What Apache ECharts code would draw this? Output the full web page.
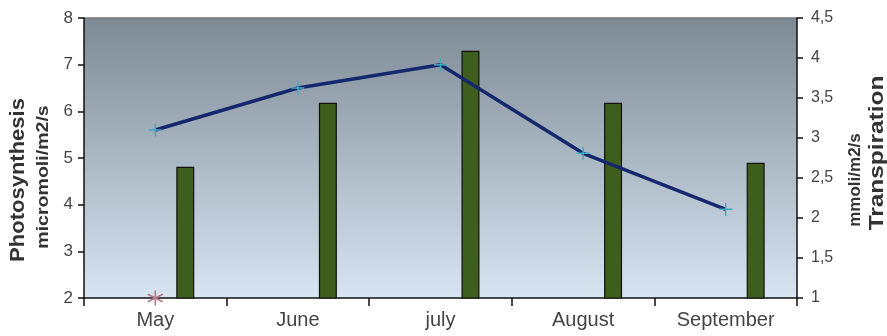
<!DOCTYPE html>
<html><head><meta charset="utf-8">
<script src="https://cdn.jsdelivr.net/npm/echarts@6/dist/echarts.min.js"></script>
<style>html,body{margin:0;padding:0;background:#fff}#c{width:887px;height:336px}</style>
</head><body><div id="c"></div>
<script>
const months = ['May', 'June', 'july', 'August', 'September'];
const photosynthesis = [5.6, 6.5, 7.0, 5.1, 3.9];
const transpiration = [2.64, 3.44, 4.09, 3.44, 2.69];
const marker = [2, null, null, null, null];
const leftTicks = [2, 3, 4, 5, 6, 7, 8];
const rightTicks = [1, 1.5, 2, 2.5, 3, 3.5, 4, 4.5];

const chart = echarts.init(document.getElementById('c'));
const font = 'Liberation Sans, Arial, sans-serif';
const asterisk = 'path://M0,-10L0,10M-9,-5L9,5M-9,5L9,-5';
chart.setOption({
  animation: false,
  textStyle: { fontFamily: font },
  grid: {
    left: 84, right: 90, top: 18, bottom: 38, show: true, borderWidth: 0,
    backgroundColor: new echarts.graphic.LinearGradient(0, 0, 0, 1, [
      { offset: 0, color: '#7d8993' },
      { offset: 0.5, color: '#aab8c4' },
      { offset: 1, color: '#d6e5f1' }
    ])
  },
  xAxis: {
    type: 'category', data: months, boundaryGap: true,
    axisLine: { lineStyle: { color: '#111', width: 1.5 } },
    axisTick: { show: true, length: 8, lineStyle: { color: '#111', width: 1.5 }, interval: 0 },
    axisLabel: { color: '#444', fontSize: 20, margin: 12 }
  },
  yAxis: [{
    type: 'value', min: leftTicks[0], max: leftTicks[leftTicks.length - 1], interval: 1,
    axisLine: { show: true, lineStyle: { color: '#111', width: 1.5 } },
    axisTick: { show: true, length: 6, lineStyle: { color: '#111', width: 1.5 } },
    axisLabel: { color: '#444', fontSize: 17, margin: 11 },
    splitLine: { show: false }
  }, {
    type: 'value', min: rightTicks[0], max: rightTicks[rightTicks.length - 1], interval: 0.5,
    position: 'right',
    axisLine: { show: true, lineStyle: { color: '#111', width: 1.5 } },
    axisTick: { show: true, length: 6, lineStyle: { color: '#111', width: 1.5 } },
    axisLabel: { color: '#444', fontSize: 16, margin: 14, formatter: v => String(v).replace('.', ',') },
    splitLine: { show: false }
  }],
  series: [{
    type: 'bar', yAxisIndex: 1, data: months.map(() => null), barWidth: 18, barGap: '233%'
  }, {
    type: 'bar', yAxisIndex: 1, data: transpiration, barWidth: 18, barGap: '233%',
    itemStyle: { color: '#3d5e1c', borderColor: '#111', borderWidth: 1.2 }
  }, {
    type: 'line', yAxisIndex: 0, data: photosynthesis,
    lineStyle: { color: '#14286e', width: 3.5 },
    symbol: 'path://M0,-10L0,10M-10,0L10,0', symbolSize: 13,
    itemStyle: { color: '#3fa9bf', borderColor: '#3fa9bf', borderWidth: 1.5 },
    z: 5
  }, {
    type: 'line', yAxisIndex: 0, data: marker, lineStyle: { opacity: 0 },
    symbol: asterisk, symbolSize: 15,
    itemStyle: { color: 'none', borderColor: '#b07a88', borderWidth: 1.5 },
    z: 6
  }],
  graphic: [
    { type: 'text', rotation: Math.PI / 2, x: 18, y: 180, scaleX: 1.1,
      style: { text: 'Photosynthesis', font: 'bold 20px ' + font, fill: '#333', align: 'center', verticalAlign: 'middle' } },
    { type: 'text', rotation: Math.PI / 2, x: 43, y: 177, scaleX: 1.15,
      style: { text: 'micromoli/m2/s', font: 'bold 17px ' + font, fill: '#333', align: 'center', verticalAlign: 'middle' } },
    { type: 'text', rotation: Math.PI / 2, x: 855, y: 180,
      style: { text: 'mmoli/m2/s', font: 'bold 17px ' + font, fill: '#333', align: 'center', verticalAlign: 'middle' } },
    { type: 'text', rotation: Math.PI / 2, x: 877, y: 153, scaleX: 1.22,
      style: { text: 'Transpiration', font: 'bold 20px ' + font, fill: '#333', align: 'center', verticalAlign: 'middle' } },
    { type: 'line', shape: { x1: 84, y1: 18, x2: 797, y2: 18 }, style: { stroke: '#777', lineWidth: 1.5 } }
  ]
});
</script></body></html>
